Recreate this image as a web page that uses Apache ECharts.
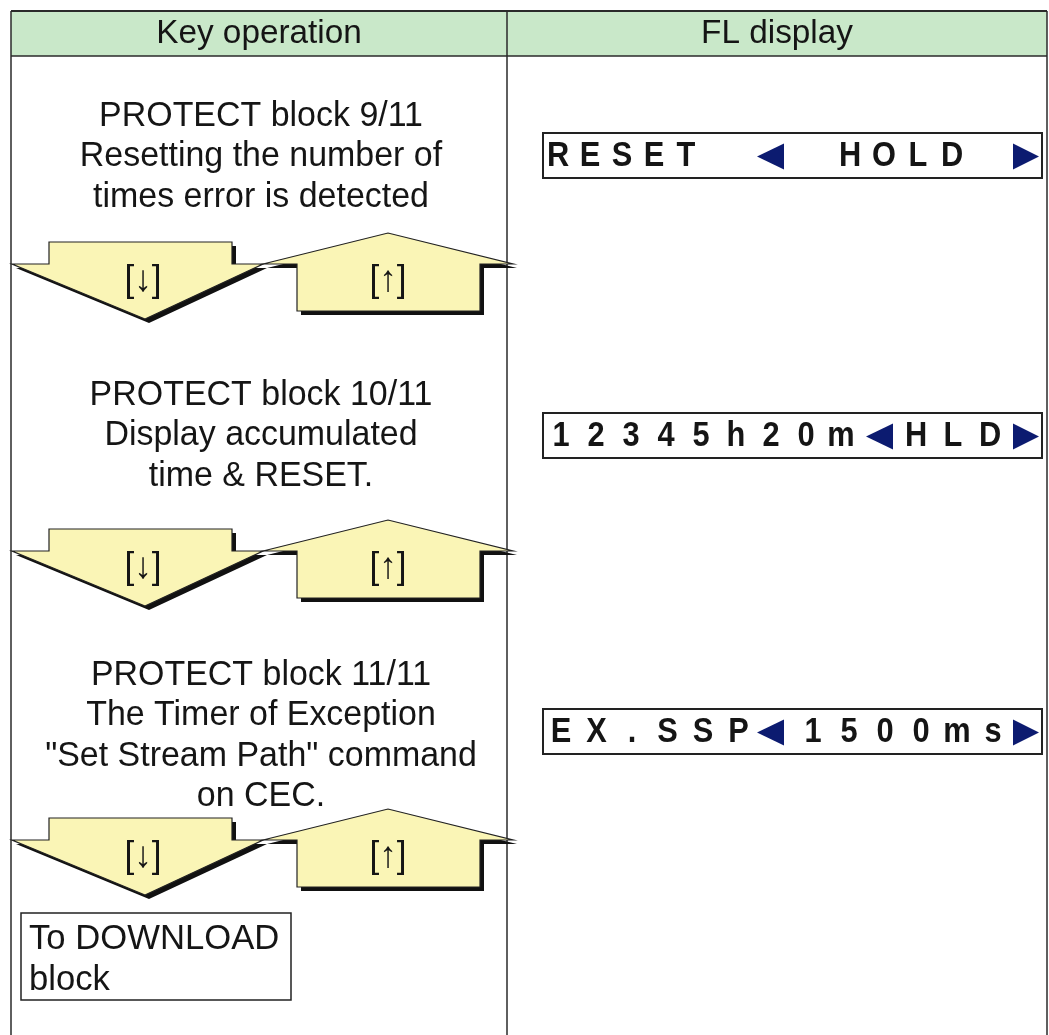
<!DOCTYPE html>
<html><head><meta charset="utf-8">
<script src="https://cdn.jsdelivr.net/npm/echarts@6/dist/echarts.min.js"></script>
<style>html,body{margin:0;padding:0;background:#fff}#c{width:1049px;height:1035px}</style>
</head><body><div id="c"></div>
<script>
// ---- content ----
const headers = ['Key operation', 'FL display'];
const blockLines = [
  ['PROTECT block 9/11', 'Resetting the number of', 'times error is detected'],
  ['PROTECT block 10/11', 'Display accumulated', 'time & RESET.'],
  ['PROTECT block 11/11', 'The Timer of Exception', '"Set Stream Path" command', 'on CEC.']
];
const displayLeft = ['RESET', '12345h20m', 'EX.SSP'];
const displayRight = ['HOLD', 'HLD', '1500ms'];
const keyLabels = ['[\u2193]', '[\u2191]'];
const footerLines = ['To DOWNLOAD', 'block'];

// ---- layout (canvas units mapped through hidden value axes) ----
const W = 1049, H = 1035;
const L = {
  tableLeft: 11, tableRight: 1047, divider: 507, headTop: 11, headBottom: 56,
  headerX: [259, 777], headerY: 34,
  blockFirstLine: [116, 395, 675], lineGap: 40.5, textX: 261,
  arrowWing: [264, 551, 840],
  boxX: [543, 1042], boxY: [[133, 178], [413, 458], [709, 754]],
  leftStart: [558, 561, 561], leftPitch: [32, 35, 35.5],
  larrow: [757, 866, 757],
  rightStart: [850, 916, 813], rightPitch: [34, 37, 36],
  footer: { x0: 21, x1: 291, y0: 913, y1: 1000, tx: 29, ty: [939, 980] }
};
const FONT = '"Liberation Sans", Arial, Helvetica, sans-serif';
const YELLOW = '#faf5b6';
const NAVY = '#0c1b70';
const INK = '#151515';

function txt(p, t, size, opts) {
  opts = opts || {};
  return {
    type: 'text', x: p[0], y: p[1], scaleX: opts.sx || 1,
    style: {
      text: t, fill: opts.fill || INK,
      font: (opts.weight || 'normal') + ' ' + size + 'px ' + FONT,
      align: opts.align || 'center', verticalAlign: 'middle'
    }
  };
}

function renderFrame(params, api) {
  const P = (x, y) => api.coord([x, y]);
  const c = [];
  const a = P(L.tableLeft, L.headTop), b = P(L.tableRight, L.headBottom);
  c.push({ type: 'rect', shape: { x: a[0], y: a[1], width: b[0] - a[0], height: b[1] - a[1] },
    style: { fill: '#c9e8c9', stroke: null } });
  const line = (x1, y1, x2, y2, w) => {
    const p1 = P(x1, y1), p2 = P(x2, y2);
    return { type: 'line', shape: { x1: p1[0], y1: p1[1], x2: p2[0], y2: p2[1] },
      style: { stroke: '#2a2a2a', lineWidth: w || 1.5 } };
  };
  c.push(line(L.tableLeft, L.headTop, L.tableRight, L.headTop, 2));
  c.push(line(L.tableLeft, L.headBottom, L.tableRight, L.headBottom, 1.5));
  c.push(line(L.tableLeft, L.headTop, L.tableLeft, H, 1.5));
  c.push(line(L.divider, L.headTop, L.divider, H, 1.5));
  c.push(line(L.tableRight, L.headTop, L.tableRight, H, 1.5));
  headers.forEach((h, i) => c.push(txt(P(L.headerX[i], L.headerY), h, 34, { sx: 0.98 })));
  // footer box
  const f = L.footer, f0 = P(f.x0, f.y0), f1 = P(f.x1, f.y1);
  c.push({ type: 'rect', shape: { x: f0[0], y: f0[1], width: f1[0] - f0[0], height: f1[1] - f0[1] },
    style: { fill: '#fff', stroke: '#222', lineWidth: 1.5 } });
  footerLines.forEach((t, k) => c.push(txt(P(f.tx, f.ty[k]), t, 35, { align: 'left', sx: 0.99 })));
  return { type: 'group', children: c };
}

function renderBlock(params, api) {
  const i = api.value(0);
  const P = (x, y) => api.coord([x, y]);
  const c = [];
  blockLines[i].forEach((t, k) => c.push(txt(P(L.textX, L.blockFirstLine[i] + k * L.lineGap), t, 35, { sx: 0.97 })));
  // arrows
  const Wy = L.arrowWing[i];
  const down = [[12, Wy], [49, Wy], [49, Wy - 22], [232, Wy - 22], [232, Wy], [263, Wy], [145, Wy + 55]];
  const up = [[263, Wy], [388, Wy - 31], [513, Wy], [480, Wy], [480, Wy + 47], [297, Wy + 47], [297, Wy]];
  const poly = (pts, dx, dy, fill, stroke) => ({
    type: 'polygon', shape: { points: pts.map(q => P(q[0] + dx, q[1] + dy)) },
    style: { fill: fill, stroke: stroke, lineWidth: 1.2 }
  });
  c.push(poly(down, 4, 4, '#111', null));
  c.push(poly(down, 0, 0, YELLOW, '#222'));
  c.push(poly(up, 4, 4, '#111', null));
  c.push(poly(up, 0, 0, YELLOW, '#222'));
  c.push(txt(P(143, Wy + 17), keyLabels[0], 37, { sx: 0.95 }));
  c.push(txt(P(388, Wy + 17), keyLabels[1], 37, { sx: 0.95 }));
  // display box
  const by = L.boxY[i], b0 = P(L.boxX[0], by[0]), b1 = P(L.boxX[1], by[1]);
  c.push({ type: 'rect', shape: { x: b0[0], y: b0[1], width: b1[0] - b0[0], height: b1[1] - b0[1] },
    style: { fill: '#fff', stroke: '#222', lineWidth: 2 } });
  const cy = (by[0] + by[1]) / 2 + 1;
  displayLeft[i].split('').forEach((ch, k) =>
    c.push(txt(P(L.leftStart[i] + k * L.leftPitch[i], cy), ch, 35, { weight: 'bold', sx: 0.88 })));
  displayRight[i].split('').forEach((ch, k) =>
    c.push(txt(P(L.rightStart[i] + k * L.rightPitch[i], cy), ch, 35, { weight: 'bold', sx: 0.88 })));
  const la = L.larrow[i];
  c.push({ type: 'polygon', shape: { points: [P(la, cy), P(la + 27, cy - 13), P(la + 27, cy + 13)] },
    style: { fill: NAVY } });
  c.push({ type: 'polygon', shape: { points: [P(1013, cy - 13), P(1039, cy), P(1013, cy + 13)] },
    style: { fill: NAVY } });
  return { type: 'group', children: c };
}

const chart = echarts.init(document.getElementById('c'), null, { renderer: 'canvas' });
chart.setOption({
  backgroundColor: '#ffffff',
  animation: false,
  grid: { left: 0, right: 0, top: 0, bottom: 0 },
  xAxis: { type: 'value', min: 0, max: W, show: false },
  yAxis: { type: 'value', min: 0, max: H, inverse: true, show: false },
  series: [
    { type: 'custom', renderItem: renderFrame, data: [[0]], clip: false, silent: true },
    { type: 'custom', renderItem: renderBlock, data: blockLines.map((_, i) => [i]), clip: false, silent: true }
  ]
});
</script>
</body></html>
